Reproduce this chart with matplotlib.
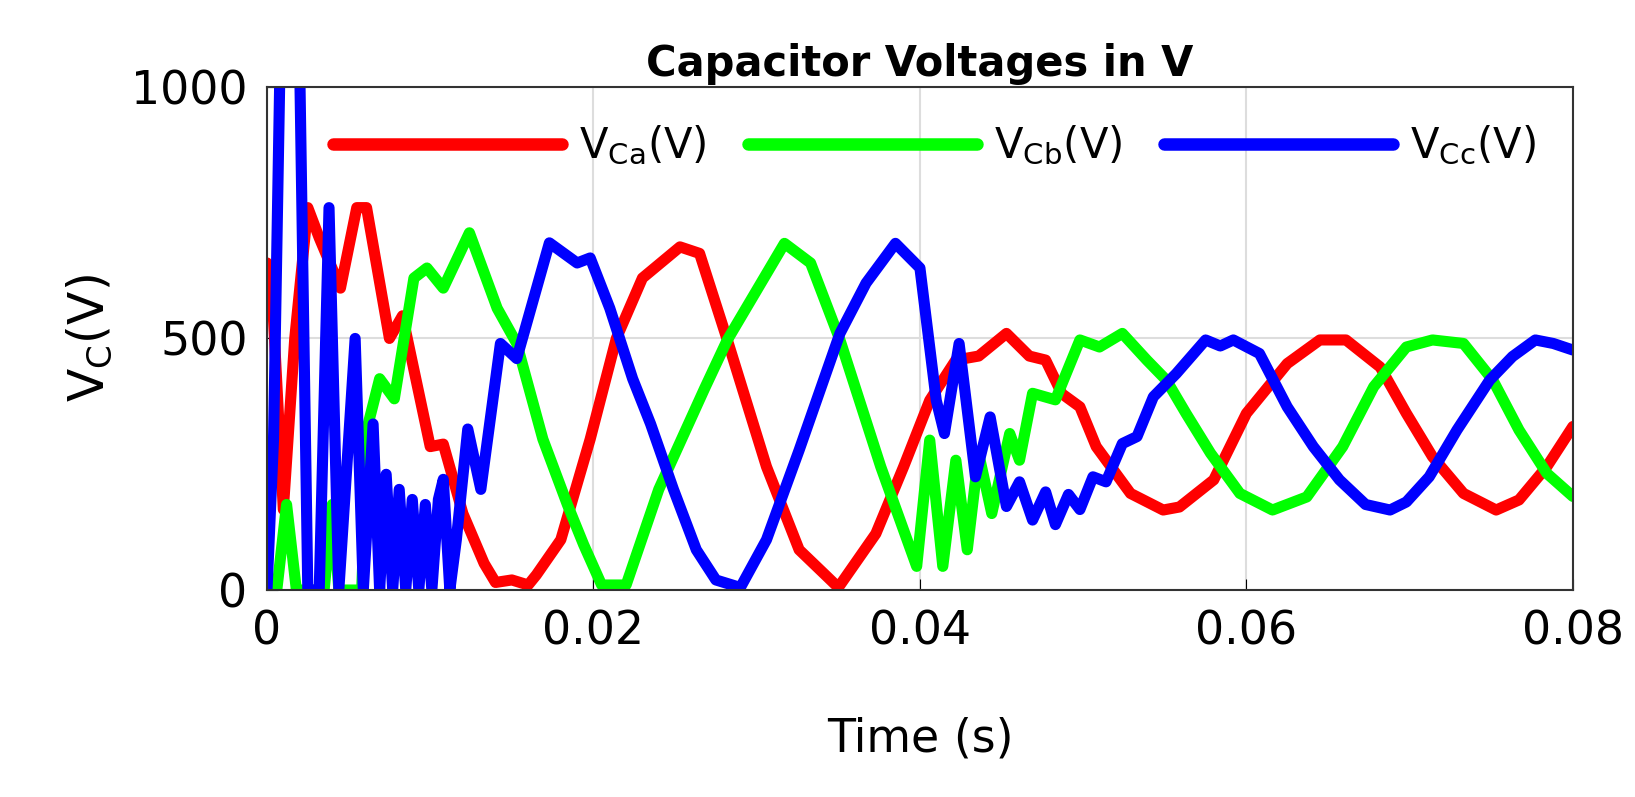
import matplotlib
matplotlib.use("Agg")
import matplotlib.pyplot as plt
import numpy as np

# time in ms, voltage in V
t_a = [0, 0.3, 1.0, 1.7, 2.5, 3.2, 4.5, 5.5, 6.1, 7.5, 8.3, 10.0, 10.8, 12.0, 13.3, 14.0, 15.0, 16.0, 16.5,
       18.0, 19.8, 21.4, 23.0, 25.3, 26.5, 28.2, 30.6, 32.6, 34.3, 35.0, 37.3, 39.0, 40.6, 42.2, 43.6, 45.3,
       46.7, 47.7, 48.7, 49.8, 50.8, 52.9, 54.9, 55.9, 58.0, 60.0, 62.5, 64.5, 66.1, 68.2, 69.8, 71.4, 73.3,
       75.3, 76.7, 78.4, 80.0]
v_a = [650, 600, 160, 500, 760, 700, 600, 760, 760, 500, 545, 285, 290, 152, 53, 15, 20, 10, 30,
       100, 300, 500, 620, 682, 669, 497, 245, 80, 27, 5, 112, 245, 377, 457, 465, 510,
       465, 457, 390, 364, 285, 192, 159, 165, 219, 351, 450, 497, 497, 443, 351, 265, 192,
       159, 179, 245, 325]

t_b = [0, 0.6, 1.2, 1.8, 3.5, 4.0, 4.4, 5.8, 6.2, 6.9, 7.8, 9.0, 9.8, 10.8, 12.4, 14.1, 15.3, 16.9, 18.4,
       19.4, 20.5, 22.0, 24.0, 26.8, 28.2, 31.7, 33.3, 35.1, 37.6, 39.8, 40.6, 41.4, 42.2, 42.9, 43.6, 44.4,
       45.5, 46.1, 46.9, 48.3, 49.8, 51.0, 52.4, 53.9, 55.1, 56.3, 57.8, 59.6, 61.6, 63.7, 65.9, 67.8,
       69.8, 71.4, 73.3, 75.1, 76.7, 78.4, 80.0]
v_b = [0, 0, 170, 0, 0, 170, 0, 0, 330, 420, 380, 620, 640, 600, 710, 560, 490, 300, 170,
       90, 10, 10, 200, 400, 497, 689, 650, 497, 245, 47, 298, 47, 258, 80, 271, 152,
       311, 258, 391, 378, 497, 483, 510, 457, 417, 351, 272, 192, 159, 185, 285, 404,
       483, 497, 490, 417, 318, 232, 186]

t_c = [0, 0.4, 0.8, 2.0, 2.5, 3.2, 3.8, 4.4, 5.4, 5.9, 6.5, 6.9, 7.3, 7.7, 8.1, 8.5, 8.9, 9.3, 9.7, 10.1,
       10.5, 10.8, 11.2, 11.6, 12.3, 13.1, 14.3, 15.3, 17.3, 19.0, 19.8, 21.0, 22.4, 23.5, 24.9, 26.3,
       27.5, 29.0, 30.6, 32.6, 35.1, 36.7, 38.5, 40.0, 41.0, 41.5, 42.4, 43.4, 44.3, 45.3, 46.1, 46.9,
       47.7, 48.3, 49.1, 49.8, 50.6, 51.4, 52.4, 53.3, 54.3, 55.7, 57.5, 58.4, 59.2, 60.8, 62.5, 64.1,
       65.7, 67.3, 68.8, 69.8, 71.2, 72.9, 74.9, 76.3, 77.7, 78.8, 80.0]
v_c = [0, 300, 1050, 1050, 0, 0, 760, 0, 500, 0, 330, 0, 230, 0, 200, 0, 180, 0, 170, 0,
       180, 220, 0, 100, 320, 200, 490, 460, 690, 650, 660, 560, 420, 330, 200, 80,
       20, 5, 100, 278, 510, 610, 689, 640, 377, 311, 490, 225, 344, 166, 215, 139,
       195, 130, 190, 160, 225, 215, 291, 305, 384, 430, 497, 485, 497, 470, 364, 285,
       219, 170, 159, 175, 225, 318, 417, 464, 497, 490, 477]

xticks = [0, 0.02, 0.04, 0.06, 0.08]
xtick_labels = ["0", "0.02", "0.04", "0.06", "0.08"]
yticks = [0, 500, 1000]

fig = plt.figure(figsize=(16.35, 7.97), dpi=100)
ax = fig.add_axes([0.1633, 0.2597, 0.7987, 0.6313])
lw = 8
kw = dict(lw=lw, solid_joinstyle="round", solid_capstyle="round")
ax.plot(np.array(t_a) / 1000, v_a, color="#ff0000", label=r"V$_{\mathrm{Ca}}$(V)", **kw)
ax.plot(np.array(t_b) / 1000, v_b, color="#00ff00", label=r"V$_{\mathrm{Cb}}$(V)", **kw)
ax.plot(np.array(t_c) / 1000, v_c, color="#0000ff", label=r"V$_{\mathrm{Cc}}$(V)", **kw)
ax.set_xlim(0, 0.08)
ax.set_ylim(0, 1000)
ax.set_xticks(xticks)
ax.set_xticklabels(xtick_labels)
ax.set_yticks(yticks)
ax.grid(True, color="#dddddd", lw=1.5)
ax.tick_params(labelsize=33, direction="in", length=8, pad=14)
for s in ax.spines.values():
    s.set_color("#333333")
    s.set_linewidth(1.5)
ax.set_xlabel("Time (s)", fontsize=33, labelpad=45)
ax.set_ylabel(r"V$_\mathrm{C}$(V)", fontsize=35, labelpad=12)
ax.set_title("Capacitor Voltages in V", fontsize=30, fontweight="bold", pad=8)
leg = ax.legend(ncol=3, frameon=False, fontsize=30, loc="upper right", bbox_to_anchor=(1.0, 1.0),
                handlelength=5.5, columnspacing=1.0, handletextpad=0.4)
for h in leg.get_lines():
    h.set_linewidth(9)
fig.savefig("out.png", dpi=100)
